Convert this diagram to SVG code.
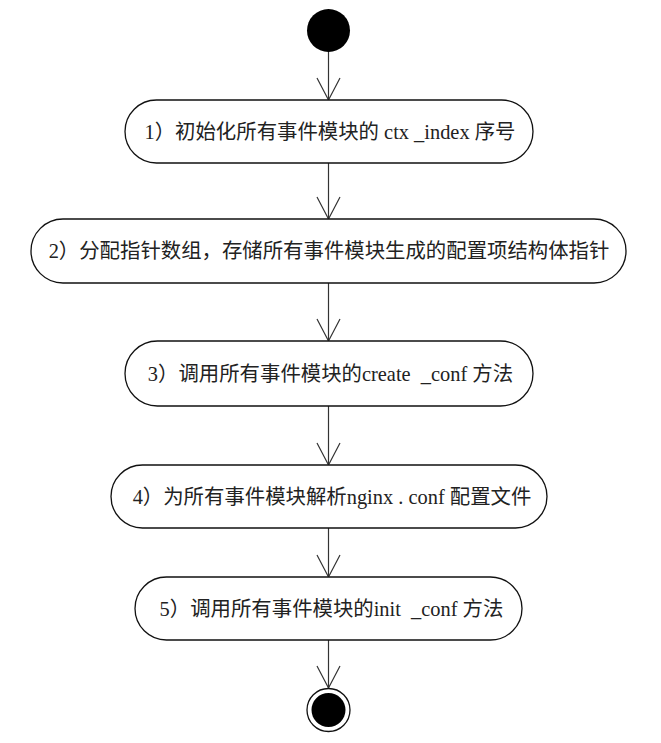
<svg xmlns="http://www.w3.org/2000/svg" width="661" height="743" viewBox="0 0 661 743">
<style>
.node rect{fill:#fff;stroke:#111;stroke-width:1.3}
.node text{font-family:"Liberation Serif","Noto Sans CJK SC",serif;font-size:20.4px;fill:#222;text-anchor:middle;white-space:pre}
.conn line{stroke:#333;stroke-width:1.2}
</style>
<defs>
<marker id="arr" markerUnits="userSpaceOnUse" viewBox="-24 -13 26 26" refX="0" refY="0" markerWidth="26" markerHeight="26" orient="auto">
<path d="M-22,-11.5 L0,0 L-22,11.5" fill="none" stroke="#333" stroke-width="1.2"/>
</marker>
</defs>
<rect width="661" height="743" fill="#fff"/>
<g id="connectors" class="conn">
<line x1="328.5" y1="52" x2="328.5" y2="100" marker-end="url(#arr)"/>
<line x1="328.5" y1="163" x2="328.5" y2="219" marker-end="url(#arr)"/>
<line x1="328.5" y1="283" x2="328.5" y2="341" marker-end="url(#arr)"/>
<line x1="328.5" y1="406" x2="328.5" y2="465" marker-end="url(#arr)"/>
<line x1="328.5" y1="528" x2="328.5" y2="577" marker-end="url(#arr)"/>
<line x1="328.5" y1="640" x2="328.5" y2="688" marker-end="url(#arr)"/>
</g>
<g id="start">
<circle cx="328.5" cy="30.5" r="21.5" fill="#000"/>
</g>
<g id="n1" class="node">
<rect x="125" y="100" width="408" height="63" rx="31.5"/>
<text x="330" y="138.5">1）初始化所有事件模块的 ctx _index 序号</text>
</g>
<g id="n2" class="node">
<rect x="31" y="219" width="595" height="64" rx="32"/>
<text x="329" y="258">2）分配指针数组，存储所有事件模块生成的配置项结构体指针</text>
</g>
<g id="n3" class="node">
<rect x="125" y="341" width="408" height="65" rx="32.5"/>
<text x="330.5" y="380.5">3）调用所有事件模块的create  _conf 方法</text>
</g>
<g id="n4" class="node">
<rect x="111" y="465" width="436" height="63" rx="31.5"/>
<text x="332" y="503.5">4）为所有事件模块解析nginx . conf 配置文件</text>
</g>
<g id="n5" class="node">
<rect x="135" y="577" width="387" height="63" rx="31.5"/>
<text x="331.5" y="615.5">5）调用所有事件模块的init  _conf 方法</text>
</g>
<g id="end">
<circle cx="328.5" cy="710" r="21.5" fill="#fff" stroke="#111" stroke-width="1.3"/>
<circle cx="328.5" cy="710" r="17" fill="#000"/>
</g>
</svg>
